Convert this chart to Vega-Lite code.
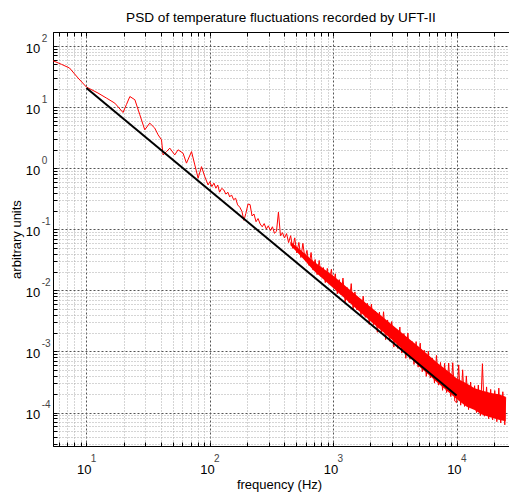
{
  "$schema": "https://vega.github.io/schema/vega-lite/v6.json",
  "width": 456,
  "height": 414,
  "autosize": {"type": "none"},
  "padding": {"left": 53, "top": 32, "right": 0, "bottom": 47},
  "background": "white",
  "title": {"text": "PSD of temperature fluctuations recorded by UFT-II", "font": "Liberation Sans", "fontSize": 13.6, "fontWeight": "normal", "color": "black", "anchor": "middle", "baseline": "bottom", "offset": 10, "dy": 17},
  "config": {"view": {"stroke": "black", "strokeWidth": 1}},
  "layer": [
    {
      "data": {"values": [
        {"f":450,"lo":0.055,"hi":0.063},{"f":550,"lo":0.0358,"hi":0.0451},{"f":700,"lo":0.0208,"hi":0.0294},{"f":1000,"lo":0.0109,"hi":0.0173},{"f":1500,"lo":0.00525,"hi":0.00871},{"f":2000,"lo":0.00316,"hi":0.00537},{"f":3000,"lo":0.00155,"hi":0.00275},{"f":4000,"lo":0.000912,"hi":0.0017},{"f":5000,"lo":0.000562,"hi":0.00117},{"f":6000,"lo":0.000407,"hi":0.000851},{"f":7000,"lo":0.000309,"hi":0.000646},{"f":8000,"lo":0.000245,"hi":0.000525},{"f":9000,"lo":0.0002,"hi":0.000437},{"f":10000,"lo":0.000166,"hi":0.000363},{"f":12000,"lo":0.000126,"hi":0.000302},{"f":14000,"lo":0.00011,"hi":0.000251},{"f":16000,"lo":0.0000933,"hi":0.000229},{"f":19000,"lo":0.0000832,"hi":0.000209},{"f":22000,"lo":0.0000759,"hi":0.0002},{"f":25000,"lo":0.0000724,"hi":0.000182}
      ]},
      "mark": {"type": "area", "color": "#ff0000", "opacity": 1, "clip": true},
      "encoding": {
        "x": {"field": "f", "type": "quantitative", "scale": {"type": "log", "domain": [5.36, 26600], "nice": false},
          "axis": {"orient": "top", "values": [6,7,8,9,10,20,30,40,50,60,70,80,90,100,200,300,400,500,600,700,800,900,1000,2000,3000,4000,5000,6000,7000,8000,9000,10000,20000],
            "grid": false, "ticks": true, "tickColor": "black", "tickSize": -4, "labels": false, "domain": true, "domainColor": "black", "title": null}},
        "y": {"field": "lo", "type": "quantitative", "scale": {"type": "log", "domain": [0.00002835, 169.6], "nice": false}, "axis": null},
        "y2": {"field": "hi"}
      }
    },
    {
      "data": {"values": [
        {"f":5.36,"v":57.4},{"f":6.3,"v":50},{"f":7.3,"v":43.6},{"f":8.55,"v":30},{"f":10,"v":21.3},{"f":12.4,"v":17},{"f":14.5,"v":14.1},{"f":17,"v":11.6},{"f":19.8,"v":8.16},{"f":21.1,"v":11},{"f":22.5,"v":14.9},{"f":24.7,"v":13.2},{"f":27.1,"v":7.48},{"f":29.7,"v":4.25},{"f":32.6,"v":5.47},{"f":35.8,"v":4.53},{"f":38.1,"v":3.52},{"f":40.6,"v":2.91},{"f":41.8,"v":1.65},{"f":44.6,"v":1.87},{"f":47.4,"v":2.13},{"f":52,"v":1.65},{"f":55.3,"v":2.0},{"f":60.7,"v":1.76},{"f":64.7,"v":1.21},{"f":71.1,"v":1.87},{"f":75.6,"v":1.13},{"f":80.4,"v":0.686},{"f":85.6,"v":1.06},{"f":91.1,"v":0.728},{"f":96.9,"v":0.532},
        {"f":100,"v":0.60},{"f":104,"v":0.50},{"f":108,"v":0.57},{"f":112,"v":0.47},{"f":116,"v":0.531},{"f":120,"v":0.405},{"f":125,"v":0.468},{"f":130,"v":0.439},{"f":135,"v":0.376},{"f":140,"v":0.405},{"f":145,"v":0.339},{"f":150,"v":0.365},{"f":156,"v":0.305},{"f":162,"v":0.322},{"f":168,"v":0.251},{"f":175,"v":0.230},{"f":182,"v":0.197},{"f":189,"v":0.140},{"f":196,"v":0.182},{"f":204,"v":0.259},{"f":212,"v":0.254},{"f":220,"v":0.165},{"f":228,"v":0.178},{"f":237,"v":0.133},{"f":246,"v":0.150},{"f":256,"v":0.122},{"f":266,"v":0.110},{"f":276,"v":0.124},{"f":287,"v":0.101},{"f":298,"v":0.114},{"f":310,"v":0.0955},{"f":322,"v":0.110},{"f":334,"v":0.0861},{"f":347,"v":0.0928},{"f":360,"v":0.191},{"f":374,"v":0.0781},{"f":388,"v":0.0881},{"f":403,"v":0.0721},{"f":419,"v":0.0851},{"f":435,"v":0.0606},{"f":452,"v":0.0785},{"f":470,"v":0.0487},{"f":488,"v":0.0724},{"f":507,"v":0.0410},{"f":527,"v":0.0610},{"f":547,"v":0.0345},{"f":568,"v":0.0589},{"f":590,"v":0.0333},{"f":613,"v":0.0452},{"f":637,"v":0.0256},{"f":662,"v":0.0417},{"f":687,"v":0.0215},{"f":714,"v":0.0320},{"f":741,"v":0.0181},{"f":770,"v":0.0309},{"f":800,"v":0.0167},{"f":831,"v":0.0237},{"f":863,"v":0.0134},{"f":896,"v":0.0229},{"f":931,"v":0.0136},{"f":967,"v":0.0221},
        {"f":1000,"v":0.0114},{"f":1040,"v":0.0187},{"f":1080,"v":0.00877},{"f":1120,"v":0.0150},{"f":1160,"v":0.00847},{"f":1200,"v":0.0159},{"f":1250,"v":0.0065},{"f":1300,"v":0.0111},{"f":1350,"v":0.00628},{"f":1400,"v":0.0129},{"f":1450,"v":0.00482},{"f":1500,"v":0.00945},{"f":1560,"v":0.00476},{"f":1620,"v":0.00725},{"f":1680,"v":0.00392},{"f":1750,"v":0.00804},{"f":1820,"v":0.00361},{"f":1890,"v":0.00617},{"f":1960,"v":0.00277},{"f":2040,"v":0.00596},{"f":2120,"v":0.00274},{"f":2200,"v":0.00458},{"f":2280,"v":0.00206},{"f":2370,"v":0.00442},{"f":2460,"v":0.00199},{"f":2560,"v":0.00447},{"f":2660,"v":0.00156},{"f":2760,"v":0.00328},{"f":2870,"v":0.00147},{"f":2980,"v":0.00309},{"f":3100,"v":0.00118},{"f":3220,"v":0.00232},{"f":3340,"v":0.00112},{"f":3470,"v":0.00251},{"f":3600,"v":0.00094},{"f":3740,"v":0.00197},{"f":3880,"v":0.000773},{"f":4030,"v":0.0020},{"f":4190,"v":0.000746},{"f":4350,"v":0.00146},{"f":4520,"v":0.000614},{"f":4700,"v":0.00145},{"f":4880,"v":0.000553},{"f":5070,"v":0.00137},{"f":5270,"v":0.000466},{"f":5470,"v":0.00105},{"f":5680,"v":0.000392},{"f":5900,"v":0.00101},{"f":6130,"v":0.00037},{"f":6370,"v":0.000777},{"f":6620,"v":0.000304},{"f":6870,"v":0.000862},{"f":7140,"v":0.000281},{"f":7410,"v":0.000661},{"f":7700,"v":0.000231},{"f":8000,"v":0.000639},{"f":8310,"v":0.000213},{"f":8630,"v":0.000646},{"f":8960,"v":0.000183},{"f":9310,"v":0.000654},{"f":9670,"v":0.000154},
        {"f":10000,"v":0.000145},{"f":10400,"v":0.000603},{"f":10800,"v":0.000132},{"f":11200,"v":0.000501},{"f":11600,"v":0.000126},{"f":12000,"v":0.000398},{"f":12500,"v":0.000112},{"f":13000,"v":0.000316},{"f":13500,"v":0.000117},{"f":14000,"v":0.000275},{"f":14500,"v":0.0001},{"f":15000,"v":0.000282},{"f":15600,"v":0.0000891},{"f":16200,"v":0.000631},{"f":16800,"v":0.0000871},{"f":17500,"v":0.000263},{"f":18200,"v":0.0000794},{"f":18900,"v":0.00024},{"f":19600,"v":0.0000759},{"f":20400,"v":0.000229},{"f":21200,"v":0.0000708},{"f":22000,"v":0.000251},{"f":22800,"v":0.0000676},{"f":23700,"v":0.000219},{"f":24600,"v":0.0000631},{"f":25000,"v":0.000178}
      ]},
      "mark": {"type": "line", "color": "#ff0000", "strokeWidth": 1, "clip": true},
      "encoding": {
        "x": {"field": "f", "type": "quantitative",
          "axis": {"orient": "bottom",
            "values": [6,7,8,9,10,20,30,40,50,60,70,80,90,100,200,300,400,500,600,700,800,900,1000,2000,3000,4000,5000,6000,7000,8000,9000,10000,20000],
            "grid": true,
            "gridColor": {"condition": {"test": "abs(log(datum.value)/LN10 - round(log(datum.value)/LN10)) < 0.001", "value": "#555555"}, "value": "#aaaaaa"},
            "gridDash": {"condition": {"test": "abs(log(datum.value)/LN10 - round(log(datum.value)/LN10)) < 0.001", "value": [2, 2]}, "value": [1, 2]},
            "gridWidth": 1,
            "ticks": true, "tickColor": "black", "tickSize": -4, "tickWidth": 1,
            "domain": true, "domainColor": "black",
            "labelExpr": "abs(log(datum.value)/LN10 - round(log(datum.value)/LN10)) < 0.001 ? '10' : ''",
            "labelFont": "Liberation Sans", "labelFontSize": 13, "labelColor": "black",
            "labelBaseline": "top", "labelPadding": 21, "labelOffset": -2.7,
            "labelFlush": false, "labelOverlap": false,
            "title": "frequency (Hz)", "titleFont": "Liberation Sans", "titleFontSize": 13, "titleFontWeight": "normal", "titleColor": "black",
            "titleX": 226, "titleY": 38, "titleBaseline": "middle", "titleAlign": "center"}},
        "y": {"field": "v", "type": "quantitative",
          "axis": {"orient": "left",
            "values": [0.00003,0.00004,0.00005,0.00006,0.00007,0.00008,0.00009,0.0001,0.0002,0.0003,0.0004,0.0005,0.0006,0.0007,0.0008,0.0009,0.001,0.002,0.003,0.004,0.005,0.006,0.007,0.008,0.009,0.01,0.02,0.03,0.04,0.05,0.06,0.07,0.08,0.09,0.1,0.2,0.3,0.4,0.5,0.6,0.7,0.8,0.9,1,2,3,4,5,6,7,8,9,10,20,30,40,50,60,70,80,90,100],
            "grid": true,
            "gridColor": {"condition": {"test": "abs(log(datum.value)/LN10 - round(log(datum.value)/LN10)) < 0.001", "value": "#555555"}, "value": "#aaaaaa"},
            "gridDash": {"condition": {"test": "abs(log(datum.value)/LN10 - round(log(datum.value)/LN10)) < 0.001", "value": [2, 2]}, "value": [1, 2]},
            "gridWidth": 1,
            "ticks": true, "tickColor": "black", "tickSize": -4, "tickWidth": 1,
            "domain": true, "domainColor": "black",
            "labelExpr": "abs(log(datum.value)/LN10 - round(log(datum.value)/LN10)) < 0.001 ? '10' : ''",
            "labelFont": "Liberation Sans", "labelFontSize": 13, "labelColor": "black",
            "labelAlign": "right", "labelBaseline": "middle", "labelPadding": 17.3, "labelOffset": 2,
            "labelFlush": false, "labelOverlap": false,
            "title": "arbitrary units", "titleFont": "Liberation Sans", "titleFontSize": 13, "titleFontWeight": "normal", "titleColor": "black",
            "titleX": -37, "titleY": 207, "titleBaseline": "middle", "titleAlign": "center", "titleAngle": -90}}
      }
    },
    {
      "data": {"values": [{"f": 10, "v": 20.5}, {"f": 10000, "v": 0.00019}]},
      "mark": {"type": "line", "color": "black", "strokeWidth": 2},
      "encoding": {
        "x": {"field": "f", "type": "quantitative",
          "axis": {"orient": "bottom", "values": [10, 100, 1000, 10000], "grid": false, "ticks": false, "domain": false,
            "labelExpr": "'' + round(log(datum.value)/LN10)",
            "labelFont": "Liberation Sans", "labelFontSize": 10, "labelColor": "#444444",
            "labelBaseline": "top", "labelPadding": 7, "labelOffset": 6.6, "labelFlush": false, "labelOverlap": false,
            "title": null}},
        "y": {"field": "v", "type": "quantitative",
          "axis": {"orient": "left", "values": [0.0001, 0.001, 0.01, 0.1, 1, 10, 100], "grid": false, "ticks": false, "domain": false,
            "labelExpr": "'' + round(log(datum.value)/LN10)",
            "labelFont": "Liberation Sans", "labelFontSize": 10, "labelColor": "#444444",
            "labelAlign": "left", "labelBaseline": "middle", "labelPadding": 11.8, "labelOffset": -8, "labelFlush": false, "labelOverlap": false,
            "title": null}}
      }
    }
  ],
  "resolve": {"axis": {"x": "independent", "y": "independent"}}
}
